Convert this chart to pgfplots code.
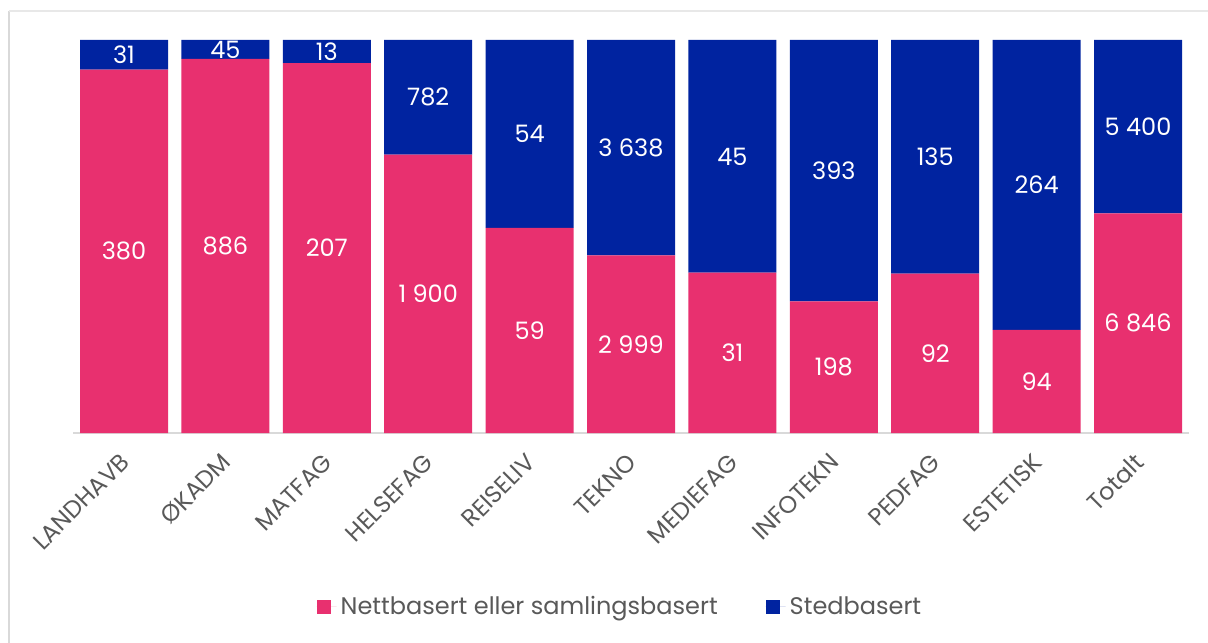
\documentclass[border=0pt]{standalone}
\usepackage{pgfplots}
\pgfplotsset{compat=1.18}
\usepackage{pgfplotstable}
\usepackage{fontspec}
\setmainfont{Poppins}

\definecolor{nettc}{HTML}{E8306F}
\definecolor{stedc}{HTML}{0023A0}
\definecolor{txtc}{HTML}{595959}
\definecolor{linec}{HTML}{D9D9D9}

% share of each study area, and the count shown on the bar
\pgfplotstableread{
x share n
0  0.92457 380
1  0.95166 886
2  0.94091 207
3  0.70843 1900
4  0.52212 59
5  0.45186 2999
6  0.40789 31
7  0.33503 198
8  0.40529 92
9  0.26257 94
10 0.55904 6846
}\nett

\pgfplotstableread{
x share n
0  0.07543 31
1  0.04834 45
2  0.05909 13
3  0.29157 782
4  0.47788 54
5  0.54814 3638
6  0.59211 45
7  0.66497 393
8  0.59471 135
9  0.73743 264
10 0.44096 5400
}\sted

\begin{document}
\begin{tikzpicture}
\begin{axis}[
	at={(0,0)},
	scale only axis,
	width=557.7pt,
	height=196.5pt,
	ybar stacked,
	bar width=44pt,
	xmin=-0.5, xmax=10.5,
	ymin=0, ymax=1,
	axis x line*=bottom,
	axis y line=none,
	x axis line style={draw=linec, line width=1pt, -},
	xtick={0,...,10},
	xticklabels={LANDHAVB,ØKADM,MATFAG,HELSEFAG,REISELIV,TEKNO,MEDIEFAG,INFOTEKN,PEDFAG,ESTETISK,Totalt},
	major tick length=0pt,
	xticklabel style={shift={(3pt,-10pt)}, rotate=45, anchor=east, text=txtc, font=\fontsize{12}{14}\selectfont},
	point meta=explicit,
	nodes near coords={\pgfmathprintnumber[assume math mode=true,fixed,precision=0,1000 sep={\ }]{\pgfplotspointmeta}},
	% with anchor=center the labels sit in the middle of each segment
	every node near coord/.append style={anchor=center, text=white,
		font=\fontsize{12}{14}\selectfont},
	legend style={at={(0.491,-0.4427)}, anchor=center, draw=none, legend columns=2,
		font=\fontsize{12}{14}\selectfont, text=txtc,
		/tikz/every even column/.append style={column sep=22pt}},
	legend cell align=left,
	legend image code/.code={\fill[#1] (0pt,-3.5pt) rectangle (7pt,3.5pt); \path (0pt,0pt) -- (10pt,0pt);},
]
\addplot[fill=nettc, draw=none] table[x=x, y=share, meta=n] {\nett};
\addplot[fill=stedc, draw=none] table[x=x, y=share, meta=n] {\sted};
\legend{Nettbasert eller samlingsbasert, Stedbasert}
\end{axis}
\draw[linec, line width=0.75pt] (-32.15pt,-120pt) -- (-32.15pt,211pt);
\draw[linec!60, line width=0.75pt] (-32.15pt,211pt) -- (600pt,211pt);
\pgfresetboundingbox
\useasboundingbox (-36.65pt,-104.5pt) rectangle (567.35pt,216.5pt);
\end{tikzpicture}
\end{document}
